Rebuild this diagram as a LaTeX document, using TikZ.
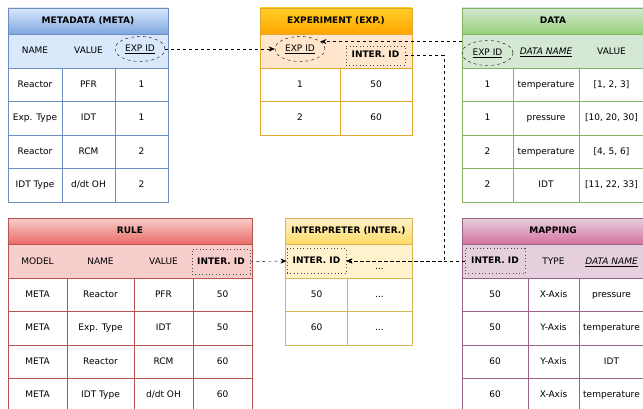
\documentclass[tikz,border=0pt]{standalone}
\usepackage{fontspec}
\setmainfont{DejaVu Sans}
\usetikzlibrary{arrows.meta}
\usetikzlibrary{shapes.geometric}

\definecolor{metaTop}{HTML}{DAE8FC}
\definecolor{metaBot}{HTML}{7EA6E0}
\definecolor{metaLine}{HTML}{6C8EBF}
\definecolor{expTop}{HTML}{FFCD28}
\definecolor{expBot}{HTML}{FFA500}
\definecolor{expHead}{HTML}{FFE6CC}
\definecolor{expLine}{HTML}{E0A82E}
\definecolor{dataTop}{HTML}{D5E8D4}
\definecolor{dataBot}{HTML}{97D077}
\definecolor{dataLine}{HTML}{82B366}
\definecolor{ruleTop}{HTML}{F8CECC}
\definecolor{ruleBot}{HTML}{EA6B66}
\definecolor{ruleLine}{HTML}{B85450}
\definecolor{interTop}{HTML}{FFF2CC}
\definecolor{interBot}{HTML}{FFD966}
\definecolor{interLine}{HTML}{D6B656}
\definecolor{mapTop}{HTML}{E6D0DE}
\definecolor{mapBot}{HTML}{D5739D}
\definecolor{mapLine}{HTML}{996185}

\begin{document}
\begin{tikzpicture}[x=1pt, y=-1pt, font=\fontsize{9}{11}\selectfont,
    every node/.style={text height=7pt, text depth=2pt},
    title/.style={font=\fontsize{9}{11}\selectfont\bfseries},
    keyell/.style={draw, dashed, ellipse, inner sep=0pt, minimum width=50pt, minimum height=25pt},
    keybox/.style={draw=black!70, line width=0.8pt, dash pattern=on 0.8pt off 2.6pt, inner sep=0pt,
        minimum width=59pt, minimum height=25pt, font=\fontsize{9}{11}\selectfont\bfseries},
    link/.style={dashed, -{Stealth[length=6pt, width=5pt]}}]
\path[use as bounding box, clip] (0,0) rectangle (643,409);

% --- METADATA (TOP LEFT) ---
\begin{scope}[shift={(8,8)}]
    \shade[top color=metaTop, bottom color=metaBot] (0,0) rectangle (160,26);
    \fill[metaTop] (0,26) rectangle (160,60);
    \draw[metaLine] (0,0) rectangle (160,194) (0,26) -- (160,26);
    \foreach \y in {60,93.5,127,160.5} \draw[metaLine] (0,\y) -- (160,\y);
    \foreach \x in {54,107} \draw[metaLine] (\x,60) -- (\x,194);
    \node[title] (metaTitle) at (80,13) {METADATA (META)};
    \node (metaName) at (27,43.5) {NAME};
    \node (metaValue) at (80.5,43.5) {VALUE};
    \node[keyell] (metaExp) at (132,41) {\underline{EXP ID}};
    \foreach \a/\b/\c [count=\i] in {Reactor/PFR/1, Exp. Type/IDT/1, Reactor/RCM/2, IDT Type/{d/dt OH}/2} {
        \node (meta-\i-1) at (27,43.25+33.5*\i) {\a};
        \node (meta-\i-2) at (80.5,43.25+33.5*\i) {\b};
        \node (meta-\i-3) at (133.5,43.25+33.5*\i) {\c};
    }
\end{scope}

% --- EXPERIMENT (TOP MIDDLE) ---
\begin{scope}[shift={(260,8)}]
    \shade[top color=expTop, bottom color=expBot] (0,0) rectangle (152,26);
    \fill[expHead] (0,26) rectangle (152,60);
    \draw[expLine] (0,0) rectangle (152,127) (0,26) -- (152,26);
    \foreach \y in {60,93.5} \draw[expLine] (0,\y) -- (152,\y);
    \draw[expLine] (80,60) -- (80,127);
    \node[title] (expTitle) at (76,13) {EXPERIMENT (EXP.)};
    \node[keyell] (expExp) at (40,41) {\underline{EXP ID}};
    \node[keybox, minimum height=19pt] (expInter) at (115.5,47.5) {INTER. ID};
    \foreach \a/\b [count=\i] in {1/50, 2/60} {
        \node (exp-\i-1) at (40,43.25+33.5*\i) {\a};
        \node (exp-\i-2) at (116,43.25+33.5*\i) {\b};
    }
\end{scope}

% --- DATA (TOP RIGHT) ---
\begin{scope}[shift={(462,8)}]
    \shade[top color=dataTop, bottom color=dataBot] (0,0) rectangle (182,26);
    \fill[dataTop] (0,26) rectangle (182,60);
    \draw[dataLine] (0,0) rectangle (182,194) (0,26) -- (182,26);
    \foreach \y in {60,93.5,127,160.5} \draw[dataLine] (0,\y) -- (182,\y);
    \foreach \x in {51,117} \draw[dataLine] (\x,60) -- (\x,194);
    \node[title] (dataTitle) at (91,13) {DATA};
    \node[keyell, minimum width=51pt] (dataExp) at (25.5,45) {\underline{EXP ID}};
    \node (dataName) at (84,44) {\underline{\textit{DATA NAME}}};
    \node (dataValue) at (149.5,44) {VALUE};
    \foreach \a/\b/\c [count=\i] in {1/temperature/{[1, 2, 3]}, 1/pressure/{[10, 20, 30]},
        2/temperature/{[4, 5, 6]}, 2/IDT/{[11, 22, 33]}} {
        \node (data-\i-1) at (25.5,43.25+33.5*\i) {\a};
        \node (data-\i-2) at (84,43.25+33.5*\i) {\b};
        \node (data-\i-3) at (149.5,43.25+33.5*\i) {\c};
    }
\end{scope}

% --- RULE (BOTTOM LEFT) ---
\begin{scope}[shift={(8,218)}]
    \shade[top color=ruleTop, bottom color=ruleBot] (0,0) rectangle (244,26);
    \fill[ruleTop] (0,26) rectangle (244,60);
    \draw[ruleLine] (0,0) rectangle (244,194) (0,26) -- (244,26);
    \foreach \y in {60,93.5,127,160.5} \draw[ruleLine] (0,\y) -- (244,\y);
    \foreach \x in {59,126,185} \draw[ruleLine] (\x,60) -- (\x,194);
    \node[title] (ruleTitle) at (122,13) {RULE};
    \node (ruleModel) at (29.5,43.5) {MODEL};
    \node (ruleName) at (92.5,43.5) {NAME};
    \node (ruleValue) at (155.5,43.5) {VALUE};
    \node[keybox, minimum width=58pt] (ruleInter) at (213,43.5) {INTER. ID};
    \foreach \a/\b/\c/\d [count=\i] in {META/Reactor/PFR/50, META/Exp. Type/IDT/50,
        META/Reactor/RCM/60, META/IDT Type/{d/dt OH}/60} {
        \node (rule-\i-1) at (29.5,43.25+33.5*\i) {\a};
        \node (rule-\i-2) at (92.5,43.25+33.5*\i) {\b};
        \node (rule-\i-3) at (155.5,43.25+33.5*\i) {\c};
        \node (rule-\i-4) at (214.5,43.25+33.5*\i) {\d};
    }
\end{scope}

% --- INTERPRETER (BOTTOM MIDDLE) ---
\begin{scope}[shift={(285,218)}]
    \shade[top color=interTop, bottom color=interBot] (0,0) rectangle (127,26);
    \fill[interTop] (0,26) rectangle (127,60);
    \draw[interLine] (0,0) rectangle (127,127) (0,26) -- (127,26);
    \foreach \y in {60,93.5} \draw[interLine] (0,\y) -- (127,\y);
    \draw[interLine] (62,60) -- (62,127);
    \node[title] (interTitle) at (63.5,13) {INTERPRETER (INTER.)};
    \node[keybox] (interKey) at (31.5,43) {INTER. ID};
    \node (interMore) at (94.5,49) {...};
    \foreach \a [count=\i] in {50, 60} {
        \node (inter-\i-1) at (31.5,43.25+33.5*\i) {\a};
        \node (inter-\i-2) at (94.5,43.25+33.5*\i) {...};
    }
\end{scope}

% --- MAPPING (BOTTOM RIGHT) ---
\begin{scope}[shift={(462,218)}]
    \shade[top color=mapTop, bottom color=mapBot] (0,0) rectangle (182,26);
    \fill[mapTop] (0,26) rectangle (182,60);
    \draw[mapLine] (0,0) rectangle (182,194) (0,26) -- (182,26);
    \foreach \y in {60,93.5,127,160.5} \draw[mapLine] (0,\y) -- (182,\y);
    \foreach \x in {66,117} \draw[mapLine] (\x,60) -- (\x,194);
    \node[title] (mapTitle) at (91,13) {MAPPING};
    \node[keybox, minimum width=60pt] (mapInter) at (33,43) {INTER. ID};
    \node (mapType) at (91.5,44) {TYPE};
    \node (mapName) at (149.5,44) {\underline{\textit{DATA NAME}}};
    \foreach \a/\b/\c [count=\i] in {50/X-Axis/pressure, 50/Y-Axis/temperature,
        60/Y-Axis/IDT, 60/X-Axis/temperature} {
        \node (map-\i-1) at (33,43.25+33.5*\i) {\a};
        \node (map-\i-2) at (91.5,43.25+33.5*\i) {\b};
        \node (map-\i-3) at (149.5,43.25+33.5*\i) {\c};
    }
\end{scope}

% --- KEY LINKS ---
\draw[link] (metaExp.east) -- (expExp.west);
\draw[link] (dataExp.west |- expExp.20) -- (expExp.20);
\coordinate (bend) at (444,0);
\draw[link] (expInter.east) -| (bend |- interKey.east) -- (interKey.east);
\draw[link] (mapInter.west) -- (interKey.east);
\draw[link] (ruleInter.east) -- (interKey.west);
\end{tikzpicture}
\end{document}
